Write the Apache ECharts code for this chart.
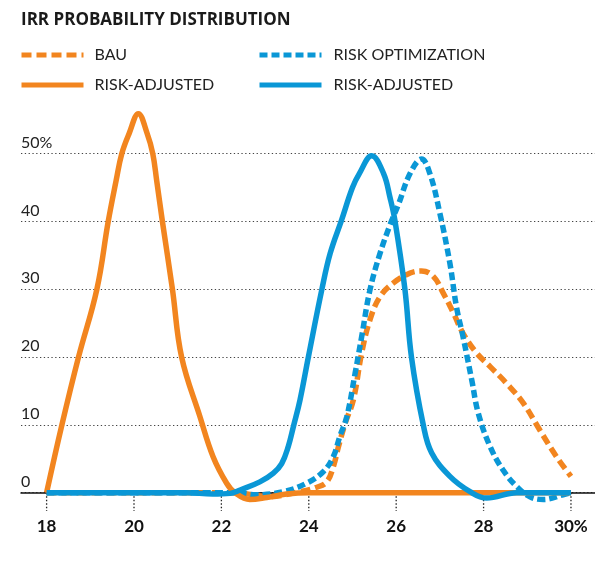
<!DOCTYPE html>
<html>
<head>
<meta charset="utf-8">
<script src="https://cdn.jsdelivr.net/npm/echarts@6/dist/echarts.min.js"></script>
<style>
  html, body { margin: 0; padding: 0; background: #fff; }
  #chart { width: 595px; height: 566px; }
</style>
</head>
<body>
<div id="chart"></div>
<script>
// IRR (%) on x, probability (%) on y

// BAU
const bauX = [18, 22.3, 22.8, 23.04, 23.8, 24.18, 24.41, 24.56, 24.68, 24.83, 25.02, 25.21, 25.4, 25.63, 25.93, 26.32, 26.58, 26.85, 27.08, 27.31, 27.53, 27.84, 28.15, 28.53, 28.91, 29.29, 29.67, 30];
const bauY = [0, 0, -0.4, -0.6, 0.15, 0.8, 1.6, 3.8, 6.8, 10.2, 13.7, 20.6, 25.5, 28.9, 30.9, 32.4, 32.7, 31.9, 29.4, 26.5, 23.5, 20.6, 18.6, 16.1, 13.2, 9.2, 5.3, 2.4];

// Risk optimization
const optX = [18, 22.3, 22.81, 23.42, 23.95, 24.33, 24.56, 24.71, 24.87, 25.06, 25.21, 25.4, 25.63, 25.86, 26.05, 26.32, 26.58, 26.77, 27.0, 27.23, 27.38, 27.53, 27.73, 27.88, 28.15, 28.45, 28.76, 29.06, 29.37, 29.82, 30];
const optY = [0, 0, -0.3, 0.15, 1.4, 3.1, 5.3, 8.3, 11.2, 17.6, 23, 29.9, 35.3, 39.5, 42.5, 47.1, 49.2, 47.1, 41.2, 33.8, 27.4, 23, 16.6, 11.7, 6.8, 3.3, 0.9, -0.6, -1, -0.3, 0];

// Risk-adjusted, BAU
const bauAdjX = [18, 18.35, 18.73, 19.15, 19.41, 19.59, 19.72, 19.89, 20.1, 20.3, 20.43, 20.52, 20.65, 20.88, 21.09, 21.51, 21.81, 22.12, 22.31, 22.65, 23.04, 23.49, 24, 30];
const bauAdjY = [0, 10, 20, 30, 40, 46, 50, 53, 55.9, 53, 50, 46, 40, 30, 20, 11.2, 5.3, 1.4, 0, -1, -0.7, -0.2, 0, 0];

// Risk-adjusted, risk optimization
const optAdjX = [18, 21.2, 21.8, 22.2, 22.43, 22.88, 23.19, 23.38, 23.53, 23.65, 23.8, 23.99, 24.3, 24.49, 24.75, 25.0, 25.16, 25.44, 25.71, 25.86, 25.97, 26.2, 26.35, 26.62, 26.81, 27.23, 27.69, 28.07, 28.76, 30];
const optAdjY = [0, 0, -0.2, -0.1, 0.4, 1.6, 2.9, 4.3, 6.8, 9.8, 13.7, 20, 30, 35.3, 40.2, 45, 47.1, 49.7, 47.1, 43.5, 40.2, 30, 20, 10, 5.9, 2.4, 0.15, -0.8, 0, 0];

// Axis ticks
const xTicks = [18, 20, 22, 24, 26, 28, 30];
const yTicks = [0, 10, 20, 30, 40, 50];

const ORANGE = '#f2851f';
const BLUE = '#0a97d6';
const LINE_W = 5.5;
const TICK_DEPTH = 2.7; // tick mark length below the zero line, in y units

const pairs = (xs, ys) => xs.map((x, i) => [x, ys[i]]);
const legendLabel = name => name.replace(/ \(.*\)$/, '');

// dotted tick marks under the zero line: one short segment per tick, broken apart by '-'
const tickSegments = xTicks.flatMap(x => [[x, 0], [x, -TICK_DEPTH], '-']);

const FONT = 'Lato, "Open Sans", sans-serif';

function lineSeries(name, xs, ys, color, dash) {
  return {
    name: name,
    type: 'line',
    data: pairs(xs, ys),
    smooth: 0.4,
    symbol: 'none',
    clip: false,
    lineStyle: { color: color, width: LINE_W, type: dash || 'solid' },
    itemStyle: { color: color }
  };
}

function legendColumn(names, left, textGap) {
  return {
    data: names,
    orient: 'vertical',
    left: left,
    top: 42,
    itemWidth: 62,
    itemHeight: 16,
    itemGap: 14,
    formatter: legendLabel,
    selectedMode: false,
    itemStyle: { opacity: 0 },
    lineStyle: { width: 5 },
    textStyle: { fontFamily: FONT, fontSize: 16, color: '#222', padding: [0, 0, 0, textGap] }
  };
}

const chart = echarts.init(document.getElementById('chart'), null, { renderer: 'canvas' });

chart.setOption({
  animation: false,
  backgroundColor: '#ffffff',
  title: {
    text: 'IRR PROBABILITY DISTRIBUTION',
    left: 16,
    top: 7,
    textStyle: { fontFamily: '"Open Sans", sans-serif', fontWeight: 'bold', fontSize: 17, color: '#1a1a1a' }
  },
  legend: [
    legendColumn(['BAU', 'RISK-ADJUSTED (BAU)'], 14, 6),
    legendColumn(['RISK OPTIMIZATION', 'RISK-ADJUSTED (OPT)'], 252, 7)
  ],
  // gridlines run the full width; the IRR scale starts a little inside
  grid: { left: 21, right: 0, top: 85.9, bottom: 73.3, containLabel: false },
  xAxis: {
    type: 'value',
    min: 17.414,
    max: 30.55,
    axisLine: { onZero: true, lineStyle: { color: '#111', width: 1.5 } },
    axisTick: { show: false },
    axisLabel: {
      customValues: xTicks,
      formatter: v => (v === 30 ? v + '%' : String(v)),
      fontFamily: FONT,
      fontWeight: 'bold',
      fontSize: 17,
      color: '#111',
      margin: 25
    },
    splitLine: { show: false }
  },
  yAxis: {
    type: 'value',
    min: 0,
    max: 60,
    interval: 10,
    axisLine: { show: false },
    axisTick: { show: false },
    axisLabel: {
      inside: true,
      margin: 0,
      align: 'left',
      verticalAlign: 'bottom',
      padding: [0, 0, 3, 0],
      fontFamily: FONT,
      fontSize: 16,
      color: '#222',
      formatter: v => (yTicks.indexOf(v) < 0 ? '' : (v === 50 ? '50%' : String(v)))
    },
    splitLine: {
      show: true,
      showMaxLine: false,
      lineStyle: { color: '#444', width: 1, type: [1.3, 2.5] }
    }
  },
  series: [
    {
      name: 'ticks',
      type: 'line',
      data: tickSegments,
      connectNulls: false,
      clip: false,
      symbol: 'none',
      silent: true,
      z: 1,
      lineStyle: { color: '#222', width: 1.3, type: [1.5, 2] }
    },
    lineSeries('BAU', bauX, bauY, ORANGE, [10, 5]),
    lineSeries('RISK OPTIMIZATION', optX, optY, BLUE, [8, 4]),
    lineSeries('RISK-ADJUSTED (BAU)', bauAdjX, bauAdjY, ORANGE),
    lineSeries('RISK-ADJUSTED (OPT)', optAdjX, optAdjY, BLUE)
  ]
});
</script>
</body>
</html>
